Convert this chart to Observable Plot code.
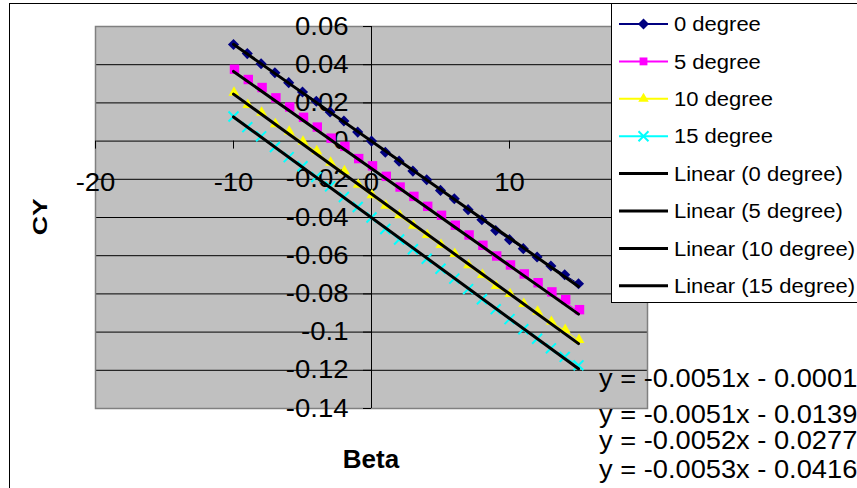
<!DOCTYPE html>
<html><head><meta charset="utf-8">
<script src="https://cdn.jsdelivr.net/npm/d3@7"></script>
<script src="https://cdn.jsdelivr.net/npm/@observablehq/plot@0.6"></script>
<style>
html,body{margin:0;padding:0;overflow:hidden;background:#fff;width:857px;height:488px}
#chart{position:relative;width:857px;height:488px}
</style></head><body><div id="chart"></div>
<script>
const beta = [-10,-9,-8,-7,-6,-5,-4,-3,-2,-1,0,1,2,3,4,5,6,7,8,9,10,11,12,13,14,15];
const cy0 = [0.0506,0.0458,0.0405,0.0358,0.0306,0.0257,0.0209,0.0152,0.0105,0.0047,0.0000,-0.0058,-0.0105,-0.0157,-0.0202,-0.0258,-0.0302,-0.0359,-0.0412,-0.0468,-0.0516,-0.0563,-0.0607,-0.0654,-0.0700,-0.0747];
const cy5 = [0.0366,0.0312,0.0270,0.0216,0.0168,0.0114,0.0063,0.0005,-0.0038,-0.0102,-0.0140,-0.0195,-0.0251,-0.0300,-0.0352,-0.0399,-0.0451,-0.0502,-0.0556,-0.0612,-0.0659,-0.0706,-0.0752,-0.0800,-0.0840,-0.0893];
const cy10 = [0.0251,0.0187,0.0147,0.0087,0.0047,-0.0005,-0.0055,-0.0115,-0.0160,-0.0230,-0.0285,-0.0340,-0.0390,-0.0445,-0.0494,-0.0546,-0.0593,-0.0652,-0.0703,-0.0761,-0.0803,-0.0855,-0.0895,-0.0948,-0.0991,-0.1043];
const cy15 = [0.0129,0.0073,0.0025,-0.0031,-0.0084,-0.0132,-0.0188,-0.0237,-0.0293,-0.0345,-0.0400,-0.0460,-0.0515,-0.0566,-0.0616,-0.0668,-0.0720,-0.0775,-0.0828,-0.0880,-0.0932,-0.0985,-0.1035,-0.1085,-0.1130,-0.1174];
const seriesNames = ["0 degree","5 degree","10 degree","15 degree"];
const seriesColors = ["#000080","#FF00FF","#FFFF00","#00FFFF"];
const seriesSymbols = ["diamond2","square2","triangle2","times"];
const trendNames = ["Linear (0 degree)","Linear (5 degree)","Linear (10 degree)","Linear (15 degree)"];
const equations = ["y = -0.0051x - 0.0001","y = -0.0051x - 0.0139","y = -0.0052x - 0.0277","y = -0.0053x - 0.0416"];
const xTicks = [-20,-10,0,10,20];
const yTicks = [-0.14,-0.12,-0.1,-0.08,-0.06,-0.04,-0.02,0,0.02,0.04,0.06];
const xTitle = "Beta", yTitle = "CY";

const allCY = [cy0, cy5, cy10, cy15];
const data = allCY.flatMap((arr, i) => arr.map((v, j) => ({beta: beta[j], cy: v, series: seriesNames[i]})));

const W = 857, H = 488, mL = 95, mR = 210, mT = 26, mB = 80;
const xDom = [-20, 20], yDom = [-0.14, 0.06];
const plotW = W - mL - mR, plotH = H - mT - mB;
const axisDx = plotW * (0 - xDom[0]) / (xDom[1] - xDom[0]);
const axisDy = -plotH * (0 - yDom[0]) / (yDom[1] - yDom[0]);
const fmt = d => String(+d.toFixed(2));
const FONT = "'Liberation Sans', Arial, sans-serif";

const symSizes = [5, 6, 5.2, 4.6];
const symOffsets = [[0, 0], [1, -2], [0.5, -0.5], [0, 0]];
const markers = seriesNames.map((s, i) => {
  const sub = data.filter(d => d.series === s);
  const [dx, dy] = symOffsets[i];
  if (seriesSymbols[i] === "times")
    return Plot.dot(sub, {x: "beta", y: "cy", symbol: "times", stroke: seriesColors[i], strokeWidth: 2, r: symSizes[i], dx, dy});
  return Plot.dot(sub, {x: "beta", y: "cy", symbol: seriesSymbols[i], fill: seriesColors[i], stroke: null, r: symSizes[i], dx, dy});
});

const plot = Plot.plot({
  width: W, height: H, marginLeft: mL, marginRight: mR, marginTop: mT, marginBottom: mB,
  x: {domain: xDom}, y: {domain: yDom},
  style: {fontFamily: FONT, background: "transparent", color: "black", overflow: "visible"},
  marks: [
    Plot.frame({fill: "#C0C0C0", stroke: null}),
    Plot.ruleY(yTicks.slice(1, -1), {stroke: "black", strokeWidth: 1}),
    Plot.frame({stroke: "#808080", strokeWidth: 1.5}),
    Plot.ruleX([0], {stroke: "black", strokeWidth: 1}),
    Plot.axisY({anchor: "left", ticks: yTicks, tickFormat: fmt, tickSize: 8, tickPadding: 15, fontSize: 25, dx: axisDx, label: null}),
    Plot.axisX({anchor: "bottom", ticks: xTicks, tickFormat: d => String(d), tickSize: 8, tickPadding: 24, fontSize: 25, dy: axisDy, label: null}),
    ...seriesNames.map((s, i) => Plot.line(data.filter(d => d.series === s), {x: "beta", y: "cy", stroke: seriesColors[i], strokeWidth: 1})),
    ...markers,
    Plot.linearRegressionY(data, {x: "beta", y: "cy", z: "series", stroke: "black", strokeWidth: 3, ci: 0})
  ]
});
document.getElementById("chart").appendChild(plot);

function stretch(t, f) {
  const L = t.getComputedTextLength();
  if (L > 0) { t.setAttribute("textLength", L * f); t.setAttribute("lengthAdjust", "spacingAndGlyphs"); }
}
plot.querySelectorAll("text").forEach(t => stretch(t, 1.1));

const svg = d3.select(plot);
// outer chart border
svg.insert("rect", ":first-child").attr("x", 9.5).attr("y", 3.5).attr("width", 900).attr("height", 600)
  .attr("fill", "white").attr("stroke", "black").attr("stroke-width", 1);

// axis titles
svg.append("text").attr("x", 371).attr("y", 467.5).attr("text-anchor", "middle")
  .attr("font-family", FONT).attr("font-weight", "bold").attr("font-size", 26).attr("fill", "black").text(xTitle);
svg.append("text").attr("transform", "translate(46.5,216.7) rotate(-90)").attr("text-anchor", "middle")
  .attr("font-family", FONT).attr("font-weight", "bold").attr("font-size", 21).attr("fill", "black")
  .attr("textLength", 37).attr("lengthAdjust", "spacingAndGlyphs").text(yTitle);

// equations
const eqBase = [387.3, 422.7, 449.3, 478.3];
equations.forEach((e, i) => {
  const t = svg.append("text").attr("x", 599).attr("y", eqBase[i]).attr("text-anchor", "start")
    .attr("font-family", FONT).attr("font-size", 25).attr("fill", "black").text(e);
  stretch(t.node(), 1.09);
});

// legend
const lg = svg.append("g");
lg.append("rect").attr("x", 611.5).attr("y", 3.5).attr("width", 300).attr("height", 299)
  .attr("fill", "white").attr("stroke", "black").attr("stroke-width", 1);
const legendLabels = [...seriesNames, ...trendNames];
const d3Sym = {diamond2: d3.symbolDiamond2, square2: d3.symbolSquare2, triangle2: d3.symbolTriangle2, times: d3.symbolTimes};
legendLabels.forEach((lab, i) => {
  const y = 24 + i * 37.4;
  const isSeries = i < seriesNames.length;
  const col = isSeries ? seriesColors[i] : "black";
  lg.append("line").attr("x1", 619).attr("x2", 668).attr("y1", y).attr("y2", y)
    .attr("stroke", col).attr("stroke-width", isSeries ? 2 : 3);
  if (isSeries) {
    const sym = seriesSymbols[i];
    const r = Math.min(symSizes[i], 5);
    const p = d3.symbol(d3Sym[sym], Math.PI * r * r)();
    const path = lg.append("path").attr("d", p).attr("transform", `translate(643.5,${y})`);
    if (sym === "times") path.attr("fill", "none").attr("stroke", col).attr("stroke-width", 2);
    else path.attr("fill", col);
  }
  const t = lg.append("text").attr("x", 674).attr("y", y + 7.2).attr("text-anchor", "start")
    .attr("font-family", FONT).attr("font-size", 20).attr("fill", "black").text(lab);
  stretch(t.node(), 1.1);
});
</script></body></html>
